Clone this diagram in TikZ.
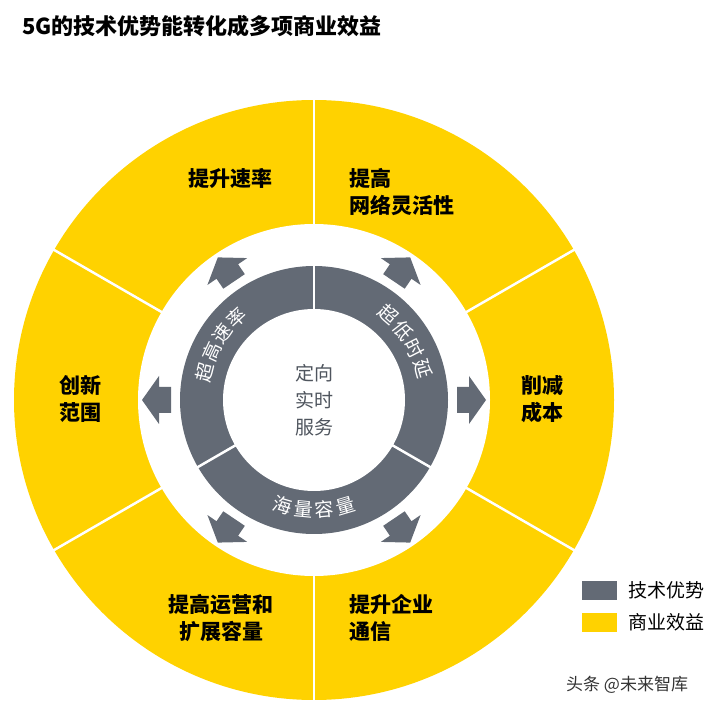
\documentclass[tikz,border=0pt]{standalone}
\usepackage{fontspec}
\setmainfont{Noto Sans CJK SC}
\usetikzlibrary{calc}
\begin{document}
\begin{tikzpicture}[x=1pt,y=1pt,
  lab/.style={font=\fontsize{21}{27}\selectfont\bfseries, text=black, align=left, inner sep=0},
  ringtxt/.style={font=\fontsize{19}{20}\selectfont, text=white, inner sep=0},
  sep/.style={draw=white, line width=2.5pt}]
\definecolor{gy}{HTML}{636A75}
\definecolor{yl}{HTML}{FFD200}
\useasboundingbox (0,0) rectangle (715,710);
\coordinate (C) at (314,310);
% yellow ring
\fill[yl] (C) circle (300);
\fill[white] (C) circle (176);
\foreach \a in {30,90,150,210,270,330}
  \draw[sep] ($(C)+(\a:170)$) -- ($(C)+(\a:305)$);
% gray ring
\fill[gy] (C) circle (134);
\fill[white] (C) circle (91);
\foreach \a in {90,210,330}
  \draw[sep] ($(C)+(\a:85)$) -- ($(C)+(\a:140)$);
% arrows
\foreach \a in {124,56,0,180,236,304}
  \fill[gy, shift={($(C)+(\a:143)$)}, rotate=\a]
   (0,-13) -- (12,-13) -- (12,-24) -- (29,0) -- (12,24) -- (12,13) -- (0,13) -- cycle;
% ring texts
\foreach \t/\a in {超/166,高/155,速/144,率/133}
  \node[ringtxt, rotate=\a-90] at ($(C)+(\a:113)$) {\t};
\foreach \t/\a in {超/49,低/38,时/27,延/16}
  \node[ringtxt, rotate=\a-90] at ($(C)+(\a:113)$) {\t};
\foreach \t/\a in {海/253.5,量/264.5,容/275.5,量/286.5}
  \node[ringtxt, rotate=\a-270] at ($(C)+(\a:110)$) {\t};
\node[font=\fontsize{19}{27}\selectfont, text=gy!80!black, align=center] (ctr) at (C) {定向\\实时\\服务};
% labels
\node[lab] (l1) at (230,532) {提升速率};
\node[lab, anchor=west] (l2) at (349,518) {提高\\网络灵活性};
\node[lab, align=center] (l3) at (542,311) {削减\\成本};
\node[lab, align=center] (l4) at (80,311) {创新\\范围};
\node[lab, align=center] (l5) at (221,92) {提高运营和\\扩展容量};
\node[lab, anchor=west] (l6) at (349,92) {提升企业\\通信};
% title
\node[anchor=west, font=\fontsize{22}{26}\selectfont\bfseries, inner sep=0] (title) at (22,684) {5G的技术优势能转化成多项商业效益};
% legend
\fill[gy] (582,110) rectangle (617,129);
\fill[yl] (582,78) rectangle (617,97);
\node[anchor=west, font=\fontsize{19}{22}\selectfont, inner sep=0] (lg1) at (628,120) {技术优势};
\node[anchor=west, font=\fontsize{19}{22}\selectfont, inner sep=0] (lg2) at (628,88) {商业效益};
\node[anchor=west, font=\fontsize{17}{20}\selectfont, text=black!80, inner sep=0] (wm) at (566,25) {头条 @未来智库};
\end{tikzpicture}
\end{document}
